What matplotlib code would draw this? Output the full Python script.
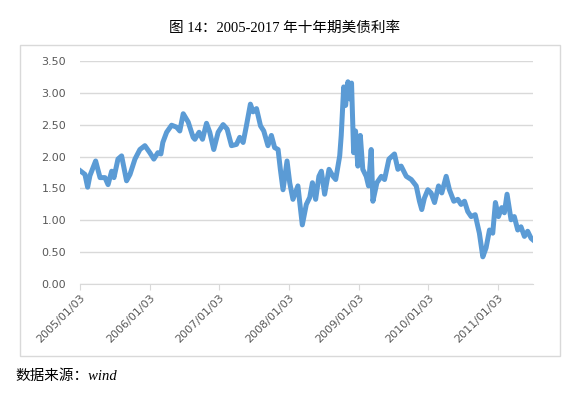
import pandas as pd
import matplotlib.pyplot as plt
import matplotlib.dates as mdates
from matplotlib.patches import Rectangle

plt.rcParams['font.family'] = ['DejaVu Sans', 'Noto Sans CJK SC']

# 十年期美债利率
dates = [
    '2005-01-03', '2005-01-29', '2005-02-12', '2005-02-24', '2005-03-26', '2005-04-18',
    '2005-05-14', '2005-05-30', '2005-06-18', '2005-06-30', '2005-07-21', '2005-08-09',
    '2005-09-04', '2005-09-22', '2005-10-18', '2005-11-13', '2005-12-09', '2006-01-04',
    '2006-01-25', '2006-02-15', '2006-03-03', '2006-03-13', '2006-04-02', '2006-04-28',
    '2006-05-24', '2006-06-10', '2006-06-28', '2006-07-24', '2006-08-19', '2006-08-28',
    '2006-09-19', '2006-10-07', '2006-10-28', '2006-11-14', '2006-12-05', '2006-12-28',
    '2007-01-23', '2007-02-13', '2007-03-08', '2007-04-03', '2007-04-20', '2007-05-08',
    '2007-05-25', '2007-06-15', '2007-06-29', '2007-07-17', '2007-08-07', '2007-08-24',
    '2007-09-15', '2007-10-03', '2007-10-20', '2007-11-07', '2007-11-19', '2007-12-03',
    '2007-12-24', '2008-01-07', '2008-01-24', '2008-02-19', '2008-03-13', '2008-04-03',
    '2008-04-21', '2008-05-05', '2008-05-22', '2008-06-08', '2008-06-21', '2008-07-08',
    '2008-07-31', '2008-08-21', '2008-09-04', '2008-09-25', '2008-10-03', '2008-10-16',
    '2008-10-26', '2008-11-07', '2008-11-20', '2008-11-26', '2008-12-07', '2008-12-17',
    '2008-12-29', '2009-01-11', '2009-01-24', '2009-02-11', '2009-02-23', '2009-03-09',
    '2009-03-18', '2009-04-08', '2009-05-01', '2009-05-18', '2009-06-10', '2009-07-09',
    '2009-07-27', '2009-08-13', '2009-09-09', '2009-10-05', '2009-10-31', '2009-11-17',
    '2009-11-29', '2009-12-13', '2009-12-31', '2010-01-17', '2010-02-04', '2010-02-25',
    '2010-03-14', '2010-04-06', '2010-04-23', '2010-05-16', '2010-06-06', '2010-06-23',
    '2010-07-11', '2010-07-28', '2010-08-15', '2010-09-05', '2010-09-27', '2010-10-15',
    '2010-11-01', '2010-11-19', '2010-12-06', '2010-12-20', '2011-01-05', '2011-01-22',
    '2011-02-05', '2011-02-19', '2011-03-12', '2011-03-29', '2011-04-16', '2011-05-03',
    '2011-05-21', '2011-06-07', '2011-06-25', '2011-07-03',
]
rates = [
    1.78, 1.72, 1.52, 1.70, 1.93, 1.67,
    1.67, 1.56, 1.77, 1.67, 1.96, 2.01,
    1.62, 1.72, 1.96, 2.11, 2.17, 2.06,
    1.96, 2.06, 2.04, 2.22, 2.38, 2.49,
    2.46, 2.40, 2.67, 2.54, 2.30, 2.27,
    2.38, 2.27, 2.52, 2.38, 2.11, 2.38,
    2.50, 2.43, 2.17, 2.19, 2.30, 2.22,
    2.48, 2.82, 2.70, 2.75, 2.48, 2.40,
    2.17, 2.33, 2.14, 2.11, 1.80, 1.48,
    1.93, 1.59, 1.33, 1.54, 0.93, 1.25,
    1.36, 1.59, 1.33, 1.69, 1.77, 1.41,
    1.80, 1.69, 1.64, 2.01, 2.33, 3.09,
    2.80, 3.17, 2.90, 3.15, 2.06, 2.40,
    1.85, 2.33, 1.80, 1.69, 1.54, 2.11,
    1.30, 1.59, 1.69, 1.64, 1.96, 2.04,
    1.80, 1.85, 1.69, 1.64, 1.54, 1.30,
    1.17, 1.35, 1.48, 1.43, 1.28, 1.54,
    1.43, 1.69, 1.48, 1.30, 1.33, 1.25,
    1.30, 1.14, 1.06, 1.09, 0.80, 0.43,
    0.57, 0.85, 0.80, 1.28, 1.06, 1.20,
    1.12, 1.41, 1.01, 1.06, 0.85, 0.90,
    0.75, 0.83, 0.72, 0.70,
]
tick_dates = ['2005-01-03', '2006-01-03', '2007-01-03', '2008-01-03',
              '2009-01-03', '2010-01-03', '2011-01-03']
y_ticks = [0.0, 0.5, 1.0, 1.5, 2.0, 2.5, 3.0, 3.5]

df = pd.DataFrame({'date': pd.to_datetime(dates), 'rate': rates})

fig = plt.figure(figsize=(5.69, 3.95), dpi=100)

# 图表外框
fig.patches.append(Rectangle((20 / 569, 1 - 356 / 395), 540 / 569, 311 / 395,
                             transform=fig.transFigure, fill=False,
                             edgecolor='#D9D9D9', linewidth=1))

ax = fig.add_axes([80 / 569, 1 - 284.3 / 395, 453 / 569, 223.6 / 395])
ax.plot(df['date'], df['rate'], color='#5B9BD5', linewidth=3.6, solid_joinstyle='round')

ax.set_ylim(0, 3.5)
ax.set_yticks(y_ticks)
ax.set_yticklabels([f'{v:.2f}' for v in y_ticks])
ax.set_xlim(pd.Timestamp('2005-01-03'), pd.Timestamp('2011-07-05'))
ax.set_xticks(pd.to_datetime(tick_dates))
ax.xaxis.set_major_formatter(mdates.DateFormatter('%Y/%m/%d'))
plt.setp(ax.get_xticklabels(), rotation=45, ha='right', rotation_mode='anchor')

ax.grid(axis='y', color='#D9D9D9', linewidth=1)
ax.set_axisbelow(True)
for s in ['left', 'right', 'top']:
    ax.spines[s].set_visible(False)
ax.spines['bottom'].set_color('#D9D9D9')
ax.tick_params(axis='y', length=0, labelsize=8, labelcolor='#595959', pad=10)
ax.tick_params(axis='x', length=4, color='#D9D9D9', labelsize=8, labelcolor='#595959', pad=2)

fig.text(0.5, 1 - 28 / 395, '图 14：2005-2017 年十年期美债利率', ha='center', va='center',
         fontsize=10.5, family=['Liberation Serif', 'Noto Sans CJK SC'])
fig.text(15 / 569, 1 - 376 / 395, '数据来源：wind', ha='left', va='center',
         fontsize=10.5, style='italic', family=['Liberation Serif', 'Noto Sans CJK SC'])

fig.savefig('out.png', dpi=100)
